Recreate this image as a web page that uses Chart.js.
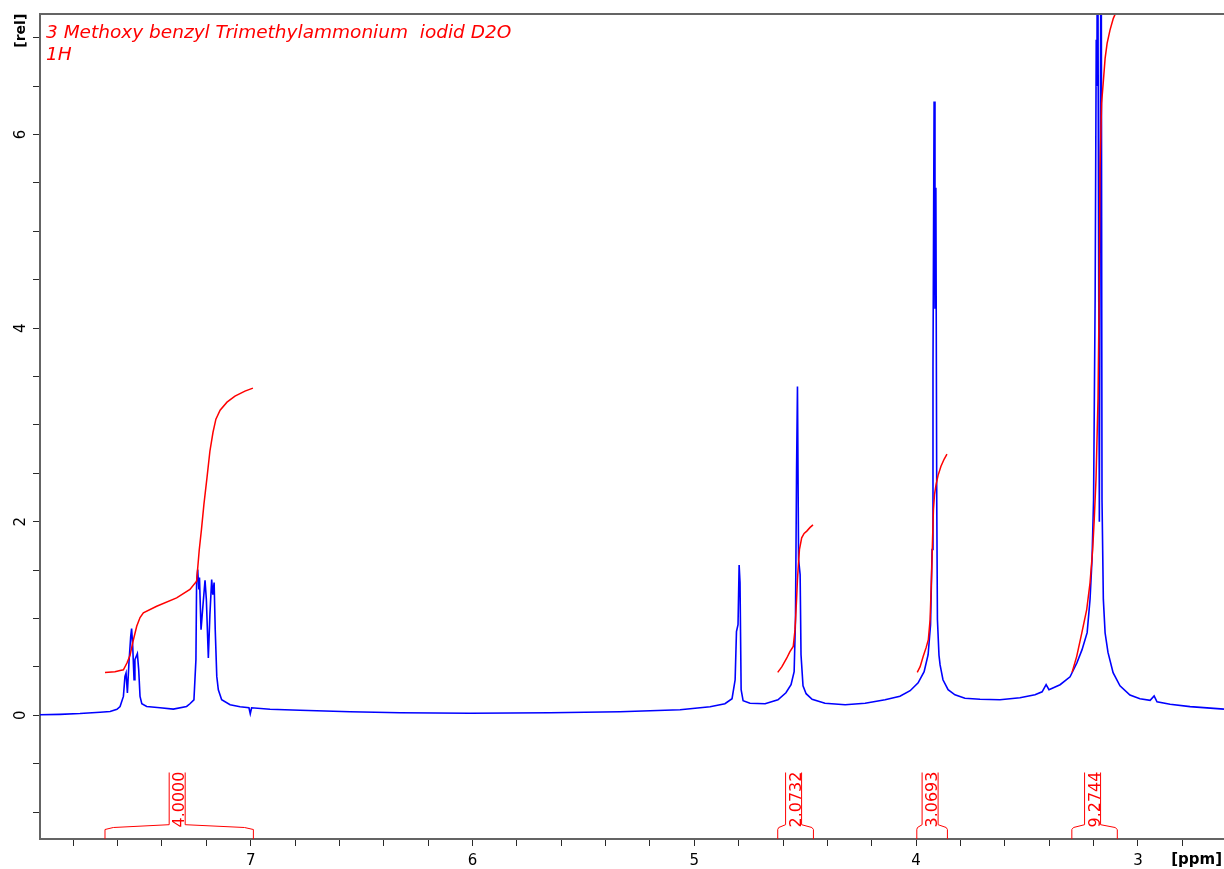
<!DOCTYPE html>
<html>
<head>
<meta charset="utf-8">
<title>3 Methoxy benzyl Trimethylammonium iodid D2O – 1H</title>
<script src="https://cdn.jsdelivr.net/npm/chart.js@4.4.1/dist/chart.umd.min.js"></script>
<style>
  html, body { margin: 0; padding: 0; background: #ffffff; }
  canvas { display: block; }
</style>
</head>
<body>
<canvas id="nmr" width="1224" height="869"></canvas>
<script>
// 1H spectrum trace: chemical shift (ppm) and relative intensity
const specPpm = [
  7.950, 7.860, 7.770, 7.679, 7.634, 7.603, 7.589, 7.574, 7.567, 7.562,
  7.556, 7.549, 7.541, 7.537, 7.532, 7.526, 7.522, 7.511, 7.505, 7.499,
  7.491, 7.469, 7.409, 7.349, 7.289, 7.274, 7.256, 7.247, 7.244, 7.239,
  7.234, 7.231, 7.224, 7.215, 7.206, 7.200, 7.191, 7.184, 7.176, 7.171,
  7.165, 7.160, 7.153, 7.146, 7.131, 7.093, 7.048, 7.008, 7.002, 6.996,
  6.913, 6.778, 6.552, 6.327, 6.011, 5.651, 5.335, 5.064, 4.929, 4.862,
  4.830, 4.816, 4.810, 4.803, 4.798, 4.794, 4.789, 4.780, 4.749, 4.681,
  4.623, 4.587, 4.564, 4.550, 4.544, 4.539, 4.535, 4.530, 4.523, 4.519,
  4.510, 4.496, 4.469, 4.411, 4.320, 4.230, 4.140, 4.073, 4.027, 3.991,
  3.964, 3.946, 3.935, 3.928, 3.924, 3.919, 3.915, 3.911, 3.907, 3.904,
  3.897, 3.892, 3.879, 3.856, 3.825, 3.780, 3.712, 3.622, 3.532, 3.464,
  3.432, 3.414, 3.401, 3.351, 3.306, 3.275, 3.252, 3.229, 3.216, 3.207,
  3.200, 3.193, 3.188, 3.185, 3.182, 3.174, 3.166, 3.162, 3.156, 3.148,
  3.135, 3.112, 3.081, 3.036, 2.991, 2.945, 2.927, 2.914, 2.855, 2.765,
  2.612
];
const specRel = [
  0.005, 0.010, 0.018, 0.031, 0.039, 0.062, 0.091, 0.195, 0.402, 0.437,
  0.230, 0.543, 0.816, 0.895, 0.712, 0.367, 0.575, 0.637, 0.471, 0.195,
  0.119, 0.091, 0.078, 0.064, 0.091, 0.119, 0.160, 0.575, 1.372, 1.506,
  1.299, 1.423, 0.885, 1.144, 1.395, 1.196, 0.592, 1.040, 1.403, 1.247,
  1.372, 0.885, 0.402, 0.264, 0.160, 0.109, 0.088, 0.078, 0.016, 0.078,
  0.062, 0.052, 0.036, 0.026, 0.021, 0.026, 0.036, 0.057, 0.088, 0.119,
  0.171, 0.367, 0.864, 0.937, 1.553, 1.372, 0.264, 0.150, 0.124, 0.119,
  0.160, 0.233, 0.316, 0.450, 0.989, 2.547, 3.397, 1.610, 1.454, 0.626,
  0.305, 0.223, 0.166, 0.124, 0.109, 0.124, 0.160, 0.197, 0.254, 0.336,
  0.450, 0.626, 0.937, 1.713, 3.600, 6.341, 4.200, 5.450, 2.200, 0.990,
  0.620, 0.520, 0.367, 0.264, 0.212, 0.176, 0.166, 0.160, 0.181, 0.212,
  0.243, 0.316, 0.264, 0.316, 0.398, 0.543, 0.678, 0.854, 1.196, 1.610,
  2.230, 4.300, 6.980, 6.500, 9.000, 2.000, 9.000, 2.230, 1.200, 0.850,
  0.650, 0.440, 0.305, 0.210, 0.170, 0.155, 0.200, 0.140, 0.114, 0.090,
  0.064
];

// Running integral curves
const int1Ppm = [7.657, 7.612, 7.589, 7.574, 7.558, 7.544, 7.531, 7.514, 7.499, 7.484,
                 7.424, 7.334, 7.274, 7.244, 7.232, 7.222, 7.211, 7.197, 7.184, 7.170,
                 7.157, 7.138, 7.107, 7.071, 7.026, 6.990];
const int1Rel = [0.443, 0.450, 0.462, 0.470, 0.540, 0.620, 0.760, 0.920, 1.010, 1.058,
                 1.126, 1.213, 1.300, 1.385, 1.710, 1.920, 2.179, 2.458, 2.728, 2.924,
                 3.059, 3.152, 3.235, 3.297, 3.349, 3.380];
const int2Ppm = [4.624, 4.605, 4.583, 4.569, 4.554, 4.546, 4.539, 4.535, 4.530, 4.526,
                 4.516, 4.505, 4.493, 4.478, 4.465];
const int2Rel = [0.443, 0.502, 0.592, 0.657, 0.712, 0.885, 1.196, 1.402, 1.589, 1.713,
                 1.834, 1.879, 1.903, 1.941, 1.967];
const int3Ppm = [3.995, 3.982, 3.968, 3.955, 3.945, 3.937, 3.931, 3.926, 3.922, 3.917,
                 3.910, 3.901, 3.888, 3.874, 3.861];
const int3Rel = [0.443, 0.502, 0.609, 0.699, 0.782, 0.989, 1.403, 1.817, 2.127, 2.283,
                 2.386, 2.479, 2.573, 2.645, 2.697];
const int4Ppm = [3.297, 3.276, 3.253, 3.231, 3.216, 3.204, 3.197, 3.189, 3.180, 3.175,
                 3.171, 3.164, 3.156, 3.148, 3.139, 3.126, 3.111, 3.099];
const int4Rel = [0.443, 0.609, 0.851, 1.092, 1.368, 1.713, 2.024, 2.440, 3.270, 4.300,
                 5.650, 6.320, 6.548, 6.786, 6.941, 7.079, 7.200, 7.262];

// Integration regions and their values
const integralFrom   = [7.657, 4.624, 3.997, 3.298];
const integralTo     = [6.988, 4.463, 3.859, 3.093];
const integralLabels = ['4.0000', '2.0732', '3.0693', '9.2744'];

// Axis labels
const xTickValues = [7, 6, 5, 4, 3];
const xTickLabels = ['7', '6', '5', '4', '3'];
const yTickValues = [0, 2, 4, 6];
const yTickLabels = ['0', '2', '4', '6'];
const xUnit = '[ppm]';
const yUnit = '[rel]';
const yUnitAt = 7;
const titleLines = ['3 Methoxy benzyl Trimethylammonium  iodid D2O', '1H'];

const toPoints = (xs, ys) => xs.map((v, i) => ({ x: v, y: ys[i] }));

const AXIS_COLOR = '#646464';
const TICK_COLOR = '#2a2a2a';
const SPEC_COLOR = '#0000ff';
const INT_COLOR = '#ff0000';
const LABEL_FONT = '"DejaVu Sans", Verdana, sans-serif';

// Frame, axis labels, integral brackets and sample title
const decorations = {
  id: 'decorations',
  afterDraw(chart) {
    const { ctx, chartArea: a, scales: { x, y } } = chart;
    ctx.save();

    // top edge of the frame
    ctx.strokeStyle = AXIS_COLOR;
    ctx.lineWidth = 2;
    ctx.beginPath();
    ctx.moveTo(a.left - 1, a.top);
    ctx.lineTo(a.right, a.top);
    ctx.stroke();

    // y labels, rotated
    ctx.fillStyle = '#000';
    ctx.textAlign = 'center';
    ctx.textBaseline = 'alphabetic';
    ctx.font = '15px ' + LABEL_FONT;
    yTickValues.forEach((v, i) => {
      ctx.save();
      ctx.translate(a.left - 15, y.getPixelForValue(v));
      ctx.rotate(-Math.PI / 2);
      ctx.fillText(yTickLabels[i], 0, 0);
      ctx.restore();
    });
    ctx.save();
    ctx.font = 'bold 14px ' + LABEL_FONT;
    ctx.translate(a.left - 15, y.getPixelForValue(yUnitAt) - 7);
    ctx.rotate(-Math.PI / 2);
    ctx.fillText(yUnit, 0, 0);
    ctx.restore();

    // x labels
    ctx.font = '15px ' + LABEL_FONT;
    xTickValues.forEach((v, i) => {
      ctx.fillText(xTickLabels[i], x.getPixelForValue(v), a.bottom + 26);
    });
    ctx.font = 'bold 15px ' + LABEL_FONT;
    ctx.textAlign = 'right';
    ctx.fillText(xUnit, a.right - 2, a.bottom + 25);

    // integral brackets with their values
    ctx.strokeStyle = INT_COLOR;
    ctx.fillStyle = INT_COLOR;
    ctx.lineWidth = 1;
    ctx.font = '16px ' + LABEL_FONT;
    ctx.textAlign = 'left';
    const yb = a.bottom;
    integralFrom.forEach((from, i) => {
      const xa = x.getPixelForValue(from);
      const xb = x.getPixelForValue(integralTo[i]);
      const xc = (xa + xb) / 2 - 2;
      const xl = xc - 8, xr = xc + 8;
      const top = yb - 66.5;
      ctx.beginPath();
      ctx.moveTo(xa, yb);
      ctx.lineTo(xa, yb - 9.5);
      ctx.lineTo(xa + (xl - xa) * 0.13, yb - 11.5);
      ctx.lineTo(xl, yb - 14.3);
      ctx.lineTo(xl, top);
      ctx.moveTo(xr, top);
      ctx.lineTo(xr, yb - 14.3);
      ctx.lineTo(xb - (xb - xr) * 0.13, yb - 11.5);
      ctx.lineTo(xb, yb - 9.5);
      ctx.lineTo(xb, yb);
      ctx.stroke();
      ctx.save();
      ctx.translate(xr - 1, yb - 11.5);
      ctx.rotate(-Math.PI / 2);
      ctx.fillText(integralLabels[i], 0, 0);
      ctx.restore();
    });

    // sample title
    ctx.fillStyle = INT_COLOR;
    ctx.textAlign = 'left';
    ctx.font = 'italic 18.5px ' + LABEL_FONT;
    ctx.fillText(titleLines[0], a.left + 6, a.top + 24);
    ctx.fillText(titleLines[1], a.left + 6, a.top + 46);

    ctx.restore();
  }
};

const intStyle = { borderColor: INT_COLOR, borderWidth: 1.5, pointRadius: 0, tension: 0, order: 0, showLine: true };

new Chart(document.getElementById('nmr'), {
  type: 'scatter',
  data: {
    datasets: [
      { label: '1H', data: toPoints(specPpm, specRel), borderColor: SPEC_COLOR, borderWidth: 1.6,
        pointRadius: 0, tension: 0, order: 1, showLine: true },
      Object.assign({ label: 'int 1', data: toPoints(int1Ppm, int1Rel) }, intStyle),
      Object.assign({ label: 'int 2', data: toPoints(int2Ppm, int2Rel) }, intStyle),
      Object.assign({ label: 'int 3', data: toPoints(int3Ppm, int3Rel) }, intStyle),
      Object.assign({ label: 'int 4', data: toPoints(int4Ppm, int4Rel) }, intStyle)
    ]
  },
  options: {
    responsive: false,
    animation: false,
    devicePixelRatio: 1,
    layout: { padding: { top: 14, right: 0, bottom: 0, left: 0 } },
    plugins: { legend: { display: false }, tooltip: { enabled: false }, title: { display: false } },
    scales: {
      x: {
        type: 'linear',
        reverse: true,
        min: 2.612,
        max: 7.950,
        ticks: { display: false, stepSize: 0.2, includeBounds: false },
        grid: { display: true, drawOnChartArea: false, drawTicks: true, tickLength: 7, color: TICK_COLOR, lineWidth: 1 },
        border: { display: true, color: AXIS_COLOR, width: 2 },
        afterFit: s => { s.height = 30; }
      },
      y: {
        type: 'linear',
        min: -1.278,
        max: 7.245,
        ticks: { display: false, stepSize: 0.5, includeBounds: false },
        grid: { display: true, drawOnChartArea: false, drawTicks: true, tickLength: 7, color: TICK_COLOR, lineWidth: 1 },
        border: { display: true, color: AXIS_COLOR, width: 2 },
        afterFit: s => { s.width = 40; }
      }
    }
  },
  plugins: [decorations]
});
</script>
</body>
</html>
